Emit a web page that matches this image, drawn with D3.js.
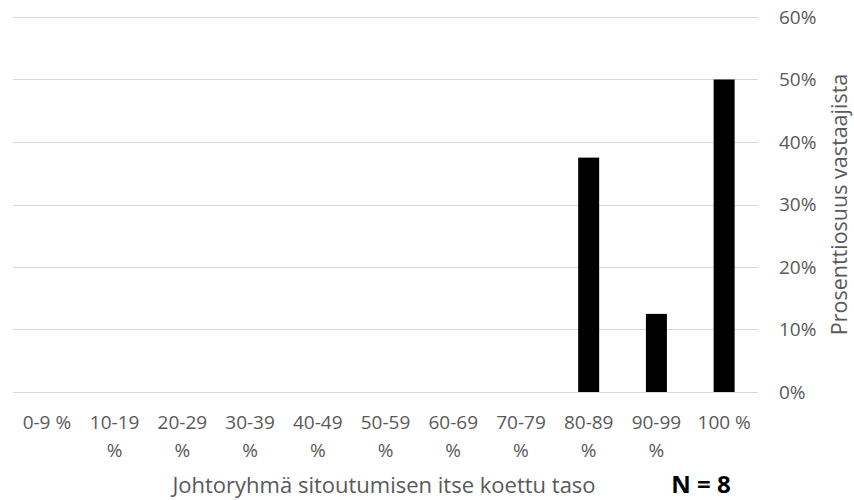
<!DOCTYPE html>
<html>
<head>
<meta charset="utf-8">
<script src="https://cdn.jsdelivr.net/npm/d3@7"></script>
<style>
  html, body { margin: 0; padding: 0; background: #fff; }
  svg { display: block; }
</style>
</head>
<body>
<svg id="chart" width="854" height="500"></svg>
<script>
// Response categories (self-assessed commitment level) and share of respondents
const categories = ["0-9 %", "10-19 %", "20-29 %", "30-39 %", "40-49 %", "50-59 %",
                    "60-69 %", "70-79 %", "80-89 %", "90-99 %", "100 %"];
const shares = [0, 0, 0, 0, 0, 0, 0, 0, 0.375, 0.125, 0.5];
const yTicks = [0, 0.1, 0.2, 0.3, 0.4, 0.5, 0.6];
const xTitle = "Johtoryhmä sitoutumisen itse koettu taso";
const yTitle = "Prosenttiosuus vastaajista";
const nLabel = "N = 8";

const FONT = "'Open Sans', 'Noto Sans', sans-serif";
const FS = 19;
const svg = d3.select("#chart");
const margin = { left: 13, right: 96, top: 17, bottom: 108 };
const W = 854, H = 500;

const x = d3.scaleBand()
  .domain(categories)
  .range([margin.left, W - margin.right])
  .paddingInner(0.69)
  .paddingOuter(0.345);

const y = d3.scaleLinear()
  .domain([0, 0.6])
  .range([H - margin.bottom, margin.top]);

// horizontal gridlines
svg.append("g")
  .selectAll("line")
  .data(yTicks)
  .join("line")
  .attr("x1", margin.left)
  .attr("x2", W - margin.right)
  .attr("y1", d => Math.round(y(d)) + 0.5)
  .attr("y2", d => Math.round(y(d)) + 0.5)
  .attr("stroke", "#d9d9d9")
  .attr("stroke-width", 1);

// bars
svg.append("g")
  .selectAll("rect")
  .data(categories.map((c, i) => ({ c, v: shares[i] })).filter(d => d.v > 0))
  .join("rect")
  .attr("x", d => x(d.c))
  .attr("width", x.bandwidth())
  .attr("y", d => y(d.v))
  .attr("height", d => y(0) - y(d.v))
  .attr("fill", "#000");

// right-hand value axis
const yAxis = d3.axisRight(y)
  .tickValues(yTicks)
  .tickFormat(d3.format(".0%"))
  .tickSize(0)
  .tickPadding(0);
const ya = svg.append("g")
  .attr("transform", `translate(${W - margin.right + 21},0)`)
  .call(yAxis);
ya.select(".domain").remove();
ya.selectAll("text")
  .attr("font-family", FONT)
  .attr("font-size", FS)
  .attr("fill", "#595959");

// category axis with wrapped labels
const xAxis = d3.axisBottom(x).tickSize(0).tickPadding(0);
const xa = svg.append("g")
  .attr("transform", `translate(0,${y(0)})`)
  .call(xAxis);
xa.select(".domain").remove();
xa.selectAll("text")
  .attr("font-family", FONT)
  .attr("font-size", FS)
  .attr("fill", "#595959")
  .attr("dy", null)
  .each(function (d) {
    const t = d3.select(this);
    t.text(null);
    const parts = d.length > 5 ? [d.slice(0, d.lastIndexOf(" ")), "%"] : [d];
    parts.forEach((p, i) => {
      t.append("tspan")
        .attr("x", 0)
        .attr("y", 37 + i * 28)
        .text(p);
    });
  });

// axis titles
svg.append("text")
  .attr("x", 384)
  .attr("y", 493)
  .attr("text-anchor", "middle")
  .attr("font-family", FONT)
  .attr("font-size", 22)
  .attr("fill", "#595959")
  .text(xTitle);

svg.append("text")
  .attr("transform", `translate(847,${(y(0) + y(0.6)) / 2}) rotate(-90)`)
  .attr("text-anchor", "middle")
  .attr("font-family", FONT)
  .attr("font-size", 21.5)
  .attr("fill", "#595959")
  .text(yTitle);

svg.append("text")
  .attr("x", 701)
  .attr("y", 493)
  .attr("text-anchor", "middle")
  .attr("font-family", FONT)
  .attr("font-size", 24)
  .attr("font-weight", "bold")
  .attr("fill", "#000")
  .text(nLabel);
</script>
</body>
</html>
